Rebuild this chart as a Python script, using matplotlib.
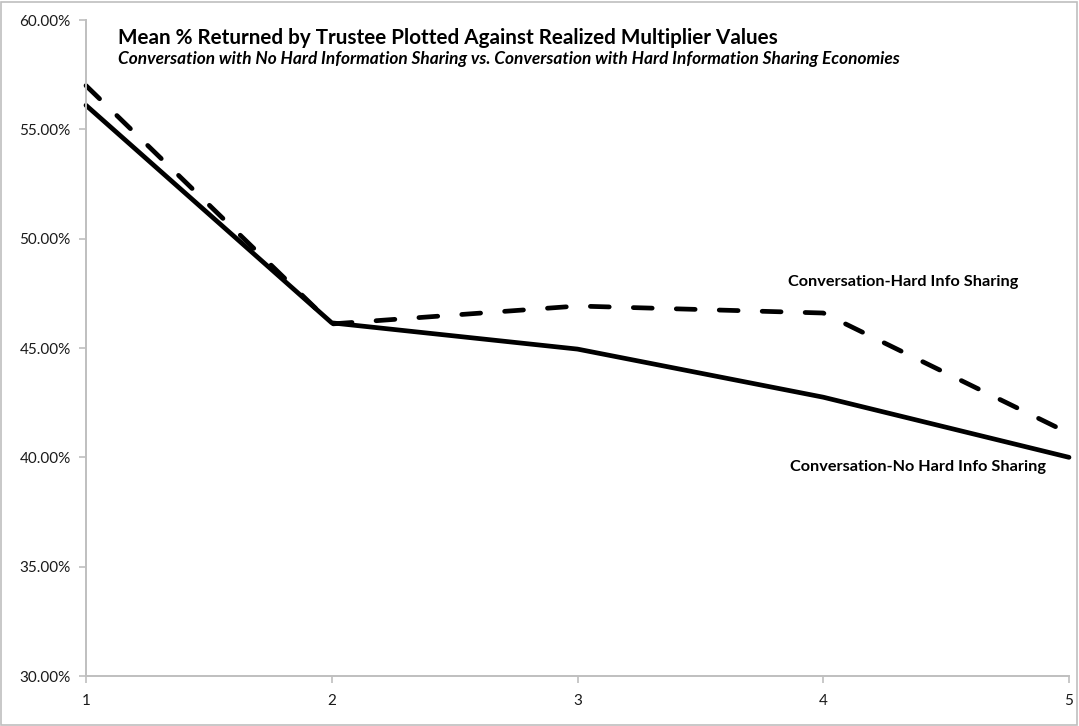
import matplotlib
matplotlib.use("Agg")
import matplotlib.pyplot as plt
from matplotlib.patches import Rectangle
from matplotlib.ticker import FuncFormatter

# ---------- data ----------
multipliers = [1, 2, 3, 4, 5]
no_hard_info = [56.10, 46.15, 44.95, 42.75, 40.00]     # solid
hard_info = [57.00, 46.10, 46.92, 46.60, 41.10]        # dashed
y_ticks = [30, 35, 40, 45, 50, 55, 60]

title = "Mean % Returned by Trustee Plotted Against Realized Multiplier Values"
subtitle = ("Conversation with No Hard Information Sharing vs. "
            "Conversation with Hard Information Sharing Economies")
label_hard = "Conversation-Hard Info Sharing"
label_no_hard = "Conversation-No Hard Info Sharing"

plt.rcParams["font.family"] = ["Lato", "DejaVu Sans"]

W, H = 1079, 726
fig = plt.figure(figsize=(W / 100, H / 100), dpi=100)
ax = fig.add_axes([86 / W, 50 / H, (1069 - 86) / W, (676 - 20) / H])

# light border round the whole chart area
fig.patches.append(Rectangle((0.001, 0.002), 0.997, 0.995, transform=fig.transFigure,
                             fill=False, edgecolor="#BFBFBF", linewidth=1.2))

ax.plot(multipliers, no_hard_info, color="black", linewidth=3.4,
        solid_capstyle="round", solid_joinstyle="round", clip_on=False)
ax.plot(multipliers, hard_info, color="black", linewidth=3.4,
        linestyle=(0, (4.0, 5.1)), dash_capstyle="round", clip_on=False)

ax.set_xlim(1, 5)
ax.set_ylim(30, 60)
ax.set_xticks(multipliers)
ax.set_yticks(y_ticks)
ax.yaxis.set_major_formatter(FuncFormatter(lambda v, _: f"{v:.2f}%"))

for side in ["top", "right"]:
    ax.spines[side].set_visible(False)
for side in ["left", "bottom"]:
    ax.spines[side].set_color("#BFBFBF")
    ax.spines[side].set_linewidth(1.4)
ax.tick_params(axis="both", colors="#BFBFBF", length=5, width=1.2, labelsize=11,
               labelcolor="#1a1a1a")
ax.tick_params(axis="y", pad=6)
ax.tick_params(axis="x", pad=8)

# titles
fig.text(118 / W, 1 - 38 / H, title, fontsize=14.9, fontweight="bold",
         va="center", ha="left")
fig.text(118 / W, 1 - 59 / H, subtitle, fontsize=12.4, fontweight="bold",
         style="italic", va="center", ha="left")

# series labels
fig.text(903 / W, 1 - 282 / H, label_hard, fontsize=11.7, fontweight="bold",
         va="center", ha="center")
fig.text(790 / W, 1 - 467 / H, label_no_hard, fontsize=11.7, fontweight="bold",
         va="center", ha="left")

fig.savefig("out.png", dpi=100)
